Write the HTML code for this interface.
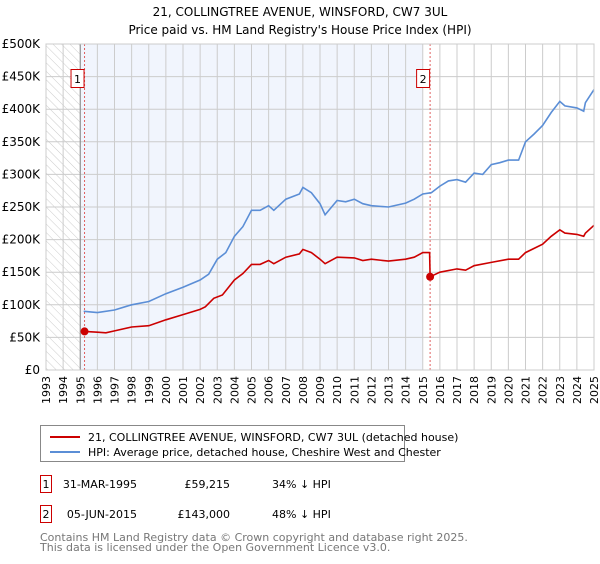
<!DOCTYPE html>
<html><head><meta charset="utf-8"><style>
body{margin:0;background:#fff;font-family:"DejaVu Sans","Liberation Sans",sans-serif;}
svg text{font-family:"DejaVu Sans","Liberation Sans",sans-serif;}
</style></head><body>
<svg id="c" width="600" height="560" xmlns="http://www.w3.org/2000/svg">
<defs><pattern id="hatch" width="6" height="6" patternUnits="userSpaceOnUse" patternTransform="rotate(-45)"><line x1="0" y1="0" x2="0" y2="6" stroke="#ccc" stroke-width="1"/></pattern></defs>
<text x="300" y="16" text-anchor="middle" font-size="12">21, COLLINGTREE AVENUE, WINSFORD, CW7 3UL</text>
<text x="300" y="34" text-anchor="middle" font-size="12">Price paid vs. HM Land Registry's House Price Index (HPI)</text>
<g id="plot"></g>
<g>
<rect x="40.5" y="425.5" width="364" height="36" fill="#fff" stroke="#888"/>
<line x1="50" y1="437" x2="80" y2="437" stroke="#cc0000" stroke-width="2"/>
<text x="88" y="441" font-size="11">21, COLLINGTREE AVENUE, WINSFORD, CW7 3UL (detached house)</text>
<line x1="50" y1="452" x2="80" y2="452" stroke="#5b8ed6" stroke-width="2"/>
<text x="88" y="456" font-size="11">HPI: Average price, detached house, Cheshire West and Chester</text>
</g>
<g font-size="11">
<rect x="40.5" y="475.5" width="11" height="17" fill="none" stroke="#cc0000"/><text x="46" y="488" text-anchor="middle">1</text>
<text x="137" y="488" text-anchor="end">31-MAR-1995</text><text x="230" y="488" text-anchor="end">£59,215</text><text x="272" y="488">34% ↓ HPI</text>
<rect x="40.5" y="505.5" width="11" height="17" fill="none" stroke="#cc0000"/><text x="46" y="518" text-anchor="middle">2</text>
<text x="137" y="518" text-anchor="end">05-JUN-2015</text><text x="230" y="518" text-anchor="end">£143,000</text><text x="272" y="518">48% ↓ HPI</text>
</g>
<text x="40" y="541" font-size="11" fill="#777">Contains HM Land Registry data © Crown copyright and database right 2025.</text>
<text x="40" y="551" font-size="11" fill="#777">This data is licensed under the Open Government Licence v3.0.</text>
</svg>
<script>
const hpiYears=[1995.2,1996,1997,1998,1999,2000,2001,2002,2002.5,2003,2003.5,2004,2004.5,2005,2005.5,2006,2006.3,2007,2007.8,2008,2008.5,2009,2009.3,2010,2010.5,2011,2011.5,2012,2013,2014,2014.5,2015,2015.5,2016,2016.5,2017,2017.5,2018,2018.5,2019,2019.5,2020,2020.6,2021,2021.5,2022,2022.5,2023,2023.3,2024,2024.4,2024.5,2025];
const hpiValues=[90,88,92,100,105,117,127,138,147,170,180,205,220,245,245,252,245,262,270,280,272,255,238,260,258,262,255,252,250,256,262,270,272,282,290,292,288,302,300,315,318,322,322,350,362,375,395,412,405,402,397,410,430];
const propYears=[1995.25,1996,1996.5,1997,1998,1999,2000,2001,2002,2002.3,2002.8,2003.3,2003.7,2004,2004.5,2005,2005.5,2006,2006.3,2007,2007.8,2008,2008.5,2009,2009.3,2010,2011,2011.5,2012,2013,2014,2014.5,2015,2015.4,2015.43,2016,2017,2017.5,2018,2019,2020,2020.6,2021,2022,2022.5,2023,2023.3,2024,2024.4,2024.5,2025];
const propValues=[59.2,58,57,60,66,68,77,85,93,97,110,115,128,138,148,162,162,168,163,173,178,185,180,170,163,173,172,168,170,167,170,173,180,180,143,150,155,153,160,165,170,170,180,193,205,215,210,208,205,210,222];
const saleYears=[1995.25,2015.43];
const saleValues=[59.215,143];
const saleLabels=["1","2"];
const yTicks=[0,50,100,150,200,250,300,350,400,450,500];
const yTickLabels=["£0","£50K","£100K","£150K","£200K","£250K","£300K","£350K","£400K","£450K","£500K"];
const xTicks=[];for(let y=1993;y<=2025;y++)xTicks.push(y);

const NS="http://www.w3.org/2000/svg";
const L=46,R=594,T=44,B=370;
const X=v=>L+(v-1993)/(2025-1993)*(R-L);
const Y=v=>B-v/500*(B-T);
const g=document.getElementById('plot');
function mk(t,a,p){const e=document.createElementNS(NS,t);for(const k in a)e.setAttribute(k,a[k]);(p||g).appendChild(e);return e;}
let e;
e=mk('rect',{x:X(1995),y:T,width:X(2015)-X(1995),height:B-T,fill:'#f1f5fd'});


e=mk('rect',{x:L,y:T,width:X(1995)-L,height:B-T,fill:'url(#hatch)'});


xTicks.forEach((t,i)=>{
 e=mk('line',{x1:X(t),x2:X(t),y1:T,y2:B,stroke:'#ccc','stroke-width':1});
 
 
 e=mk('text',{x:0,y:0,transform:`translate(${X(t)+4},${B+6}) rotate(-90)`,'text-anchor':'end','font-size':11});
 e.textContent=t;
 
 
});
yTicks.forEach((t,i)=>{
 e=mk('line',{x1:L,x2:R,y1:Y(t),y2:Y(t),stroke:'#ccc','stroke-width':1});
 
 
 e=mk('text',{x:L-6,y:Y(t)+4,'text-anchor':'end','font-size':12});
 e.textContent=yTickLabels[i];
 
 
});
e=mk('line',{x1:X(1995),x2:X(1995),y1:T,y2:B,stroke:'#888','stroke-width':1});


saleYears.forEach((s,i)=>{
 e=mk('line',{x1:X(s),x2:X(s),y1:T,y2:B,stroke:'#e06060','stroke-width':1,'stroke-dasharray':'2,2'});
 
 
});
function path(xs,vs,col,name){
 const d=xs.map((x,i)=>(i?'L':'M')+X(x).toFixed(1)+','+Y(vs[i]).toFixed(1)).join('');
 e=mk('path',{d:d,fill:'none',stroke:col,'stroke-width':1.6});
 
 
}
path(hpiYears,hpiValues,'#5b8ed6','hpi-line');
path(propYears,propValues,'#cc0000','property-price-line');
saleYears.forEach((s,i)=>{
 e=mk('circle',{cx:X(s),cy:Y(saleValues[i]),r:4,fill:'#cc0000'});
 
 
 e=mk('rect',{x:X(s)-13.5,y:69.5,width:13,height:18,fill:'#fff',stroke:'#cc0000'});
 
 
 e=mk('text',{x:X(s)-7,y:83,'text-anchor':'middle','font-size':11});
 e.textContent=saleLabels[i];
 
 
});
e=mk('rect',{x:L,y:T,width:R-L,height:B-T,fill:'none',stroke:'#ccc'});


</script>
</body></html>
